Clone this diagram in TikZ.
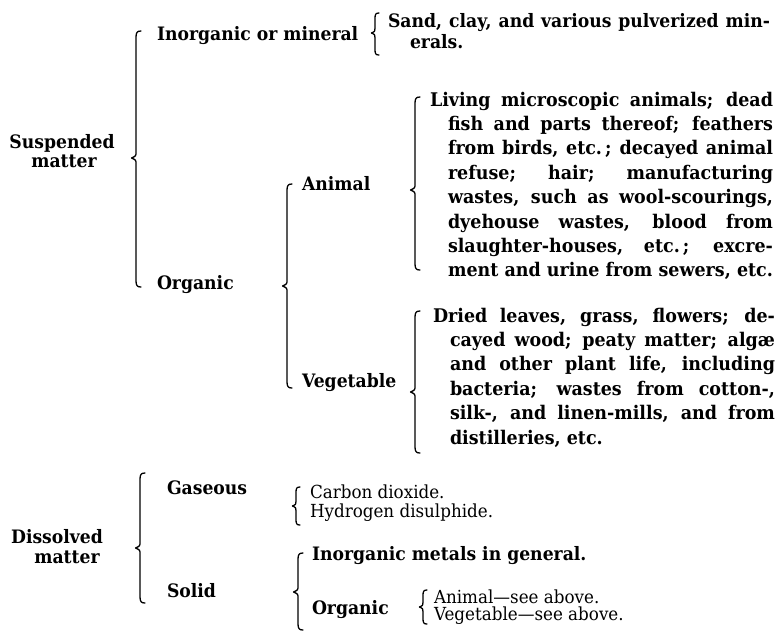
\documentclass[tikz,border=0pt]{standalone}
\usepackage{fontspec}
\setmainfont{DejaVu Serif}[FakeStretch=0.93]
\newcommand\jl[2]{\makebox[#1][s]{#2}}
\newcommand\cbrace[5]{%
  \draw[bracestyle] ({#1+#5},{#2}) .. controls ({#1+#5*0.2},{#2}) and ({#1},{#2+#5*0.3}) .. ({#1},{#2+#5*1.3})
    -- ({#1},{#3-#5*1.2}) .. controls ({#1},{#3-#5*0.4}) .. ({#1-#5*0.9},{#3})
    .. controls ({#1},{#3+#5*0.4}) .. ({#1},{#3+#5*1.2})
    -- ({#1},{#4-#5*1.3}) .. controls ({#1},{#4-#5*0.3}) and ({#1+#5*0.2},{#4}) .. ({#1+#5},{#4});}
\tikzset{
  lbl/.style={inner sep=0pt, outer sep=0pt, anchor=base west, font=\bfseries\fontsize{18.5}{19}\selectfont},
  lbc/.style={lbl, anchor=base},
  plain/.style={inner sep=0pt, outer sep=0pt, anchor=base west, font=\fontsize{18}{19}\selectfont},
  para/.style={inner sep=0pt, outer sep=0pt, anchor=north west, align=left, font=\bfseries\fontsize{18.8}{24.4}\selectfont},
  bracestyle/.style={line width=1.3pt, line cap=round, line join=round},
}
\begin{document}
\begin{tikzpicture}[x=1pt,y=-1pt]
\useasboundingbox[fill=white] (0,0) rectangle (777,635);
% labels
\node[lbc] (susA) at (62,148) {Suspended};
\node[lbc] (susB) at (64,167) {matter};
\node[lbl] (inorg) at (157,40) {Inorganic or mineral};
\node[para, font=\bfseries\fontsize{18.5}{21}\selectfont] (sand) at (388,12)
  {\rule{0pt}{15pt}\jl{382pt}{Sand, clay, and various pulverized min-}\\ \hspace*{22pt}erals.};
\node[lbl] (org) at (157,289) {Organic};
\node[lbl] (anim) at (302,190) {Animal};
\node[para] (animtxt) at (430,91)
  {\rule{0pt}{15pt}\jl{343pt}{Living microscopic animals; dead}\\
   \hspace*{18pt}\jl{325pt}{fish and parts thereof; feathers}\\
   \hspace*{18pt}\jl{325pt}{from birds, etc.\,; decayed animal}\\
   \hspace*{18pt}\jl{325pt}{refuse; hair; manufacturing}\\
   \hspace*{18pt}\jl{325pt}{wastes, such as wool-scourings,}\\
   \hspace*{18pt}\jl{325pt}{dyehouse wastes, blood from}\\
   \hspace*{18pt}\jl{325pt}{slaughter-houses, etc.\,; excre-}\\
   \hspace*{18pt}\jl{325pt}{ment and urine from sewers, etc.}};
\node[lbl] (veg) at (302,387) {Vegetable};
\node[para] (vegtxt) at (433,307)
  {\rule{0pt}{15pt}\jl{342pt}{Dried leaves, grass, flowers; de-}\\
   \hspace*{17pt}\jl{325pt}{cayed wood; peaty matter; alg\ae}\\
   \hspace*{17pt}\jl{325pt}{and other plant life, including}\\
   \hspace*{17pt}\jl{325pt}{bacteria; wastes from cotton-,}\\
   \hspace*{17pt}\jl{325pt}{silk-, and linen-mills, and from}\\
   \hspace*{17pt}distilleries, etc.};
\node[lbc] (disA) at (57,543) {Dissolved};
\node[lbc] (disB) at (67,563) {matter};
\node[lbl] (gas) at (167,494) {Gaseous};
\node[lbl] (solid) at (167,597) {Solid};
\node[plain] (carbon) at (310,498) {Carbon dioxide.};
\node[plain] (hydro) at (310,517) {Hydrogen disulphide.};
\node[lbl] (inmet) at (312,560) {Inorganic metals in general.};
\node[lbl] (org2) at (312,614) {Organic};
\node[plain] (anim2) at (434,603) {Animal---see above.};
\node[plain] (veg2) at (434,620) {Vegetable---see above.};
% braces
\cbrace{136}{31}{158}{287}{5}
\cbrace{375}{13}{33}{55}{4}
\cbrace{287}{184}{286}{388}{5}
\cbrace{415}{97}{190}{270}{5}
\cbrace{415}{311}{392}{453}{5}
\cbrace{140}{473}{548}{603}{5}
\cbrace{296}{487}{506}{525}{4}
\cbrace{298}{553}{592}{630}{5}
\cbrace{423}{590}{607}{624}{4}
\end{tikzpicture}
\end{document}
